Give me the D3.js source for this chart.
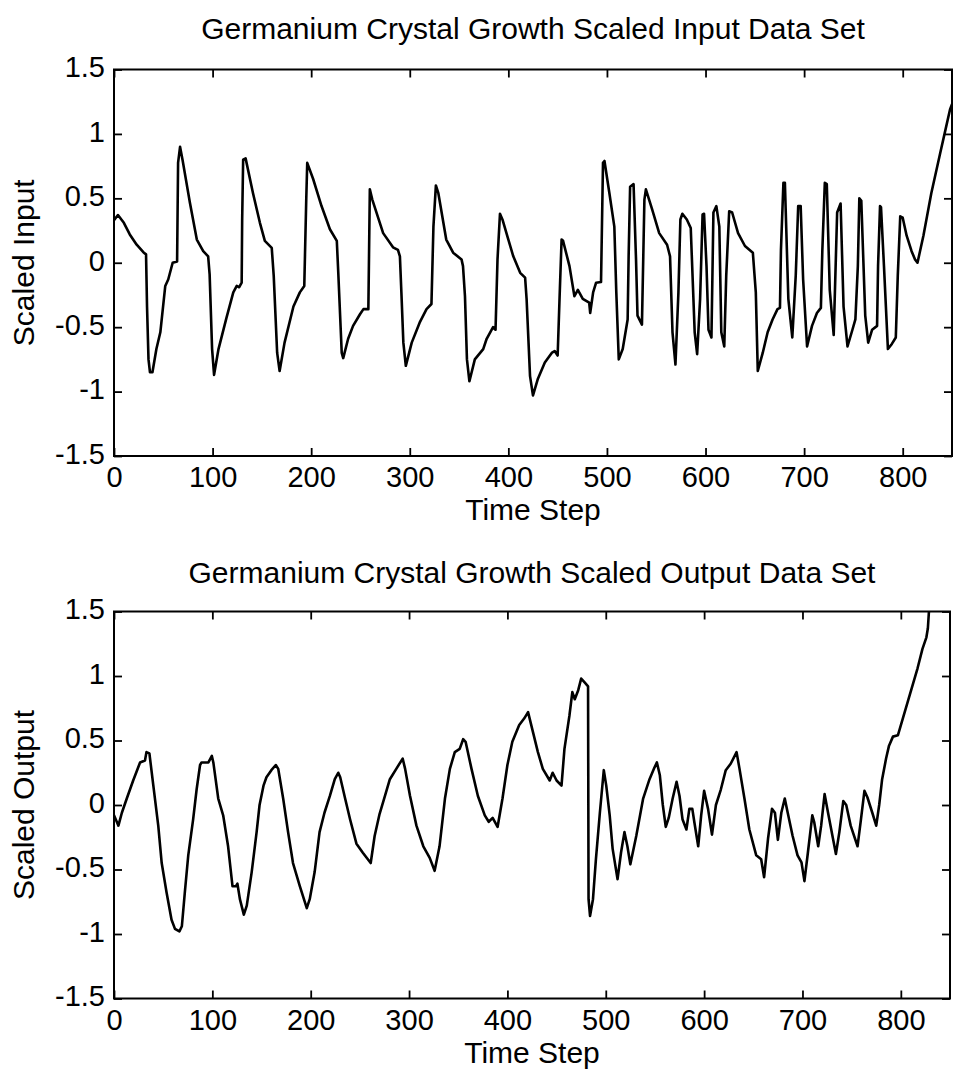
<!DOCTYPE html>
<html>
<head>
<meta charset="utf-8">
<script src="https://cdn.jsdelivr.net/npm/d3@7"></script>
<style>
  html, body { margin: 0; padding: 0; background: #fff; }
  svg { display: block; }
  text { font-family: "Liberation Sans", Arial, Helvetica, sans-serif; fill: #000; }
</style>
</head>
<body>
<svg id="chart" width="958" height="1071"></svg>
<script>
// ---------------- DATA ----------------
const xTickValues = [0, 100, 200, 300, 400, 500, 600, 700, 800];
const yTickValues = [-1.5, -1, -0.5, 0, 0.5, 1, 1.5];
const yTickLabels = ["-1.5", "-1", "-0.5", "0", "0.5", "1", "1.5"];

const inputTitle = "Germanium Crystal Growth Scaled Input Data Set";
const outputTitle = "Germanium Crystal Growth Scaled Output Data Set";
const xLabel = "Time Step";
const inputYLabel = "Scaled Input";
const outputYLabel = "Scaled Output";

const inputT = [0,4,10,16,23,30,32.5,33.5,35,36.5,39,43,47,52,55,59.5,64,65,67,69.5,77,84,90.5,95.5,97,99.5,101.5,106,114,121,124.5,127,129.5,130,131,133.5,141,148,153,160,162,165.5,168,173,182,188.5,193,195,196,202,210.5,219,226,227.5,231,232.5,237.5,242.5,249.5,253,258,259.5,262,273,283,288,290,291.5,293.5,296,302,310,317,322,324,326.5,329,337,344,352.5,354,356,358,360.5,366,374.5,378,384.5,387,389,391.5,394,400,405,412,417,418.5,422,425,430,437,444,447,450,452,454,455.5,462,467,470.5,475.5,482,483,486,489,494,496,497.5,502.5,507.5,509.5,512,516,521,522,523.5,527,529.5,531,535.5,538,539.5,546,553,561,564,566.5,569.5,572.5,574.5,576.5,581,585,589,591.5,594.5,597,598.5,601,603,606,608,611,614,616,619,621,624,627,633,640,648,651,653,658,663,668,673,675.5,676.5,679,680.5,684,688,691.5,694,696.5,699,703,708,713,717,718.5,721,723,726,730,733.5,737,740,744,749,752,754.5,756,758,762,765,769,774,775,777,778,781,785,789,793,795,797.5,800,804,809,812.5,815,821,829,838,843,848,850];
const inputV = [0.33,0.37,0.31,0.22,0.14,0.08,0.065,-0.34,-0.75,-0.85,-0.85,-0.67,-0.54,-0.18,-0.13,0.0,0.01,0.775,0.9,0.8,0.465,0.18,0.09,0.05,-0.09,-0.67,-0.87,-0.67,-0.43,-0.23,-0.18,-0.19,-0.155,0.336,0.8,0.81,0.54,0.31,0.17,0.116,-0.1,-0.70,-0.84,-0.62,-0.34,-0.23,-0.18,0.49,0.775,0.65,0.44,0.26,0.17,-0.08,-0.70,-0.74,-0.59,-0.49,-0.40,-0.36,-0.36,0.57,0.49,0.23,0.12,0.10,0.05,-0.23,-0.62,-0.80,-0.62,-0.465,-0.36,-0.32,0.28,0.60,0.54,0.18,0.078,0.026,-0.026,-0.26,-0.75,-0.92,-0.75,-0.67,-0.59,-0.50,-0.52,0.026,0.38,0.336,0.18,0.05,-0.078,-0.116,-0.28,-0.88,-1.03,-0.90,-0.775,-0.70,-0.685,-0.72,-0.26,0.18,0.17,-0.026,-0.26,-0.21,-0.28,-0.31,-0.39,-0.23,-0.155,-0.15,0.775,0.79,0.54,0.28,-0.23,-0.75,-0.67,-0.44,0.05,0.59,0.61,0.026,-0.41,-0.48,0.49,0.57,0.41,0.23,0.14,0.05,-0.54,-0.79,-0.23,0.336,0.38,0.336,0.27,-0.54,-0.71,-0.28,0.375,0.38,-0.026,-0.52,-0.58,0.39,0.44,0.28,-0.54,-0.65,-0.10,0.40,0.39,0.23,0.13,0.078,-0.23,-0.84,-0.70,-0.54,-0.44,-0.36,-0.35,0.10,0.62,0.62,-0.28,-0.58,-0.10,0.44,0.44,-0.13,-0.65,-0.49,-0.39,-0.35,0.10,0.62,0.61,-0.21,-0.56,0.39,0.46,-0.34,-0.65,-0.52,-0.44,-0.026,0.50,0.48,-0.41,-0.62,-0.52,-0.49,-0.026,0.44,0.43,-0.026,-0.67,-0.63,-0.58,-0.10,0.36,0.35,0.21,0.09,0.026,0.0,0.21,0.54,0.85,1.02,1.19,1.23];

const outputT = [0,4.5,8,13,19.5,26.5,31.5,33,36,40,45,48.5,53.5,58.5,62,66.5,69,72,75.5,80.5,84,87.5,89,96,99.5,101,106,111,116,120.5,124,125.5,128,132,135,140,145,148,152,155,160,164.5,167,172,177,182,189,196,199,204,209,214,219.5,224.5,228,230,235,240,246.5,253,261,265,270,275.5,280.5,287,293.5,296,301,307.5,314.5,321,326,331,336.5,341.5,346.5,351.5,355,357.5,363.5,370,377,381,385,390,395,400,405,412,417,421,426,431,436,443,446,450,455,458,463,466,468.5,472,475,478.5,482,482.5,484,487,490,494,498,500.5,504,507,512,515.5,519,522,525,531,538,544.5,549.5,552,555,558,561,564,568,572,575,578,582,585,588,590,594,597,600,604,608,612,617,622,627,633,636,641,646,653,658,661,665,669,672,675,678.5,682,685,690,695,699,702,705.5,710,712,716,719,722.5,726,731,734,737.5,741.5,744.5,749,756,759.5,763,766,771,775,778,781,785,788,792,797,802,807,812,817,822,826,827.5,829,831];
const outputV = [-0.08,-0.16,-0.06,0.05,0.19,0.33,0.345,0.41,0.40,0.15,-0.16,-0.45,-0.68,-0.89,-0.96,-0.98,-0.94,-0.68,-0.39,-0.11,0.12,0.31,0.33,0.33,0.38,0.33,0.05,-0.08,-0.32,-0.63,-0.63,-0.61,-0.73,-0.85,-0.78,-0.52,-0.21,0.0,0.15,0.215,0.27,0.31,0.28,0.05,-0.21,-0.45,-0.63,-0.80,-0.73,-0.52,-0.21,-0.06,0.07,0.20,0.25,0.215,0.05,-0.11,-0.30,-0.37,-0.45,-0.24,-0.07,0.07,0.20,0.28,0.36,0.28,0.07,-0.16,-0.32,-0.41,-0.51,-0.32,0.05,0.28,0.41,0.435,0.51,0.49,0.28,0.07,-0.08,-0.13,-0.10,-0.17,0.05,0.31,0.49,0.62,0.67,0.72,0.565,0.41,0.28,0.19,0.25,0.19,0.15,0.435,0.69,0.875,0.82,0.89,0.98,0.95,0.92,-0.73,-0.86,-0.73,-0.42,-0.06,0.27,0.15,-0.08,-0.34,-0.575,-0.37,-0.21,-0.32,-0.46,-0.24,0.05,0.20,0.29,0.33,0.23,0.0,-0.17,-0.10,0.05,0.18,0.07,-0.11,-0.19,-0.03,-0.03,-0.13,-0.32,-0.08,0.11,-0.03,-0.23,0.0,0.12,0.27,0.32,0.41,0.28,0.05,-0.19,-0.39,-0.42,-0.56,-0.26,-0.03,-0.06,-0.27,-0.06,0.05,-0.06,-0.24,-0.39,-0.445,-0.59,-0.37,-0.08,-0.135,-0.32,-0.16,0.085,-0.06,-0.26,-0.38,-0.21,0.03,0.0,-0.16,-0.32,-0.11,0.11,0.06,-0.06,-0.16,0.0,0.20,0.36,0.46,0.53,0.54,0.67,0.80,0.93,1.06,1.21,1.30,1.37,1.55,1.7];

// ---------------- DRAW ----------------
const svg = d3.select("#chart");
svg.append("rect").attr("width", 958).attr("height", 1071).attr("fill", "#fff");

const panels = [
  { t: inputT, v: inputV, title: inputTitle, ylabel: inputYLabel,
    left: 114, right: 952, top: 69.5, bottom: 456, titleY: 38.5, id: "p1" },
  { t: outputT, v: outputV, title: outputTitle, ylabel: outputYLabel,
    left: 114, right: 950, top: 611.5, bottom: 998.5, titleY: 582.5, id: "p2" }
];

const FONT_TICK = 29;
const FONT_LABEL = 30;

panels.forEach(p => {
  const x = d3.scaleLinear().domain([0, 850]).range([p.left, p.right]);
  const y = d3.scaleLinear().domain([-1.5, 1.5]).range([p.bottom, p.top]);
  const g = svg.append("g");

  // clip
  svg.append("clipPath").attr("id", "clip-" + p.id)
    .append("rect").attr("x", p.left).attr("y", p.top)
    .attr("width", p.right - p.left).attr("height", p.bottom - p.top);

  // data line
  const pts = p.t.map((t, i) => [t, p.v[i]]);
  g.append("path")
    .attr("clip-path", "url(#clip-" + p.id + ")")
    .attr("d", d3.line().x(d => x(d[0])).y(d => y(d[1]))(pts))
    .attr("fill", "none").attr("stroke", "#000").attr("stroke-width", 2.6)
    .attr("stroke-linejoin", "round").attr("stroke-linecap", "round");

  // axes
  const fmt = d => yTickLabels[yTickValues.indexOf(d)];
  const xb = g.append("g").attr("transform", `translate(0,${p.bottom})`)
    .call(d3.axisBottom(x).tickValues(xTickValues).tickSizeInner(-8).tickSizeOuter(0).tickPadding(10.5));
  const xt = g.append("g").attr("transform", `translate(0,${p.top})`)
    .call(d3.axisTop(x).tickValues(xTickValues).tickSizeInner(-8).tickSizeOuter(0).tickFormat(""));
  const yl = g.append("g").attr("transform", `translate(${p.left},0)`)
    .call(d3.axisLeft(y).tickValues(yTickValues).tickSizeInner(-8).tickSizeOuter(0).tickPadding(9).tickFormat(fmt));
  const yr = g.append("g").attr("transform", `translate(${p.right},0)`)
    .call(d3.axisRight(y).tickValues(yTickValues).tickSizeInner(-8).tickSizeOuter(0).tickFormat(""));

  [xb, xt, yl, yr].forEach(a => {
    a.select(".domain").remove();
    a.selectAll(".tick line").attr("stroke", "#000").attr("stroke-width", 1.8);
    a.selectAll(".tick text").attr("font-size", FONT_TICK)
      .attr("font-family", "'Liberation Sans', Arial, sans-serif").attr("fill", "#000");
  });
  yl.selectAll(".tick text").attr("dy", "0.25em");

  // frame
  g.append("rect").attr("x", p.left).attr("y", p.top)
    .attr("width", p.right - p.left).attr("height", p.bottom - p.top)
    .attr("fill", "none").attr("stroke", "#000").attr("stroke-width", 2);

  // title
  svg.append("text").attr("x", (p.left + p.right) / 2).attr("y", p.titleY)
    .attr("text-anchor", "middle").attr("font-size", FONT_LABEL).text(p.title);

  // x label
  svg.append("text").attr("x", (p.left + p.right) / 2).attr("y", p.bottom + 64)
    .attr("text-anchor", "middle").attr("font-size", FONT_LABEL).text(xLabel);

  // y label
  const cy = (p.top + p.bottom) / 2;
  svg.append("text").attr("transform", `translate(33.5,${cy}) rotate(-90)`)
    .attr("text-anchor", "middle").attr("font-size", FONT_LABEL).text(p.ylabel);
});
</script>
</body>
</html>
